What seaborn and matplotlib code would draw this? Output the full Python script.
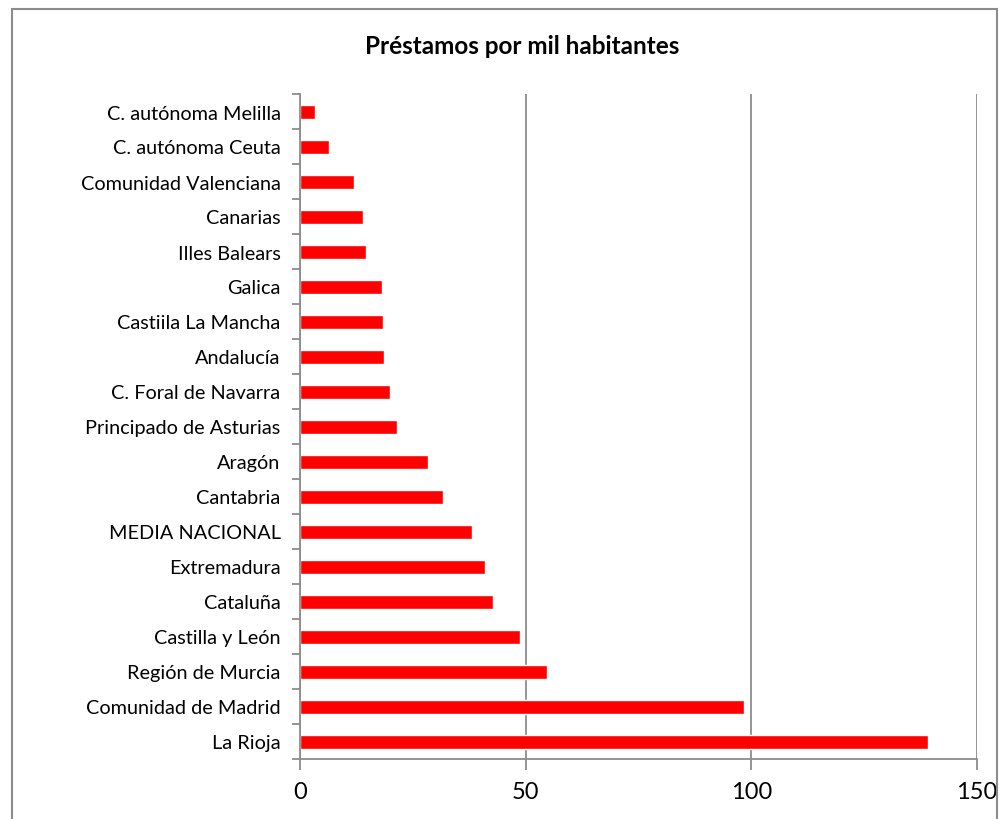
import matplotlib
matplotlib.use("Agg")
import matplotlib.pyplot as plt
import seaborn as sns
import pandas as pd
import numpy as np
from matplotlib.patches import Rectangle

# Data (top to bottom)
regiones = [
    "C. autónoma Melilla", "C. autónoma Ceuta", "Comunidad Valenciana", "Canarias",
    "Illes Balears", "Galica", "Castiila La Mancha", "Andalucía", "C. Foral de Navarra",
    "Principado de Asturias", "Aragón", "Cantabria", "MEDIA NACIONAL", "Extremadura",
    "Cataluña", "Castilla y León", "Región de Murcia", "Comunidad de Madrid", "La Rioja",
]
prestamos = [3.3, 6.4, 12.0, 14.0, 14.7, 18.2, 18.4, 18.6, 19.9, 21.5,
             28.3, 31.7, 38.2, 41.1, 42.8, 48.7, 54.7, 98.4, 139.1]
x_ticks = [0, 50, 100, 150]

df = pd.DataFrame({"Region": regiones, "Prestamos": prestamos})

sns.set_style("white")
plt.rcParams["font.family"] = ["Lato", "DejaVu Sans"]
plt.rcParams["text.color"] = "black"
plt.rcParams["xtick.labelcolor"] = "black"
plt.rcParams["ytick.labelcolor"] = "black"

fig = plt.figure(figsize=(9.99, 8.2), dpi=100)
ax = fig.add_axes([300 / 999, 1 - 760 / 820, 677 / 999, 665 / 820])

sns.barplot(data=df, x="Prestamos", y="Region", orient="h", color="#ff0000",
            saturation=1, width=0.4, ax=ax)

ax.set_xlim(0, 150)
ax.set_ylim(len(regiones) - 0.5, -0.5)
ax.set_xticks(x_ticks)
ax.set_xlabel("")
ax.set_ylabel("")
ax.grid(axis="x", color="#8c8c8c", linewidth=1.3)
ax.set_axisbelow(True)

for side in ["top", "right"]:
    ax.spines[side].set_visible(False)
for side in ["left", "bottom"]:
    ax.spines[side].set_color("#8c8c8c")
    ax.spines[side].set_linewidth(1.3)

# ticks between categories on the y axis
ax.set_yticks(np.arange(-0.5, len(regiones)), minor=True)
ax.tick_params(axis="y", which="major", length=0, labelsize=14.3, pad=14, labelcolor="black")
ax.tick_params(axis="y", which="minor", length=6, width=1.3, color="#8c8c8c", left=True)
ax.tick_params(axis="x", which="major", length=8, width=1.3, color="#8c8c8c",
               labelsize=17, pad=8, bottom=True, labelcolor="black")

fig.text(0.523, 1 - 47 / 820, "Préstamos por mil habitantes", ha="center", va="center",
         fontsize=17.5, fontweight="bold", color="black")

# chart border
fig.patches.append(Rectangle((12 / 999, -0.05), 985 / 999, 1.05 - 10 / 820,
                             transform=fig.transFigure, fill=False,
                             edgecolor="#8c8c8c", linewidth=1.5))

fig.savefig("out.png", dpi=100)
